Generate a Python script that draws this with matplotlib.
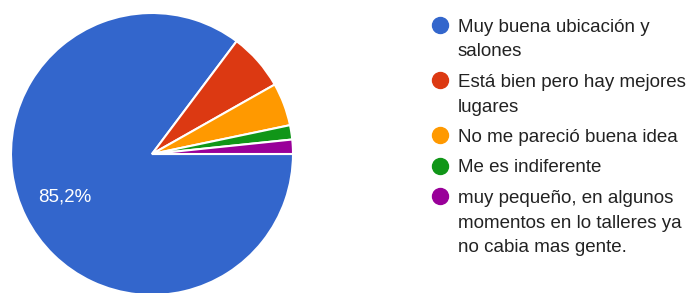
import matplotlib
matplotlib.use('Agg')
from matplotlib import pyplot as plt
from matplotlib.lines import Line2D

# responses (counts): 52/61 = 85,2%
labels: list[str] = [
    'Muy buena ubicación y\nsalones',
    'Está bien pero hay mejores\nlugares',
    'No me pareció buena idea',
    'Me es indiferente',
    'muy pequeño, en algunos\nmomentos en lo talleres ya\nno cabia mas gente.',
]
counts: list[int] = [52, 4, 3, 1, 1]
colors: list[str] = ['#3366cc', '#dc3912', '#ff9900', '#109618', '#990099']

plt.rcParams['font.family'] = ['Liberation Sans', 'DejaVu Sans']

W, H = 691, 293
fig = plt.figure(figsize=(W / 100, H / 100), dpi=100)

# pie: center (152, 154) px from top-left, radius 141 px
cx, cy, r = 152, 154, 141
ax = fig.add_axes([(cx - r) / W, (H - cy - r) / H, 2 * r / W, 2 * r / H])


def pct_label(p):
    # google forms only labels the big slices
    return f'{p:.1f}%'.replace('.', ',') if p > 10 else ''


wedges, _, autotexts = ax.pie(
    counts, colors=colors, startangle=0, counterclock=False,
    autopct=pct_label, pctdistance=0.69,
    wedgeprops={'edgecolor': 'white', 'linewidth': 1.5},
    textprops={'color': 'white', 'fontsize': 13.5})
ax.set_xlim(-1.0, 1.0)
ax.set_ylim(-1.0, 1.0)
ax.set_aspect('equal')
ax.axis('off')

# legend drawn by hand so the dot sits on the first line
text_x = 458 / W
dot_x = 440 / W
line_h = 24.5
item_gap = 30.5
baseline = 32.0
for label, color in zip(labels, colors):
    lines = label.split('\n')
    fig.add_artist(Line2D([dot_x], [1 - (baseline - 7) / H], marker='o',
                          markersize=11.5, color=color, linestyle='none',
                          transform=fig.transFigure))
    for i, line in enumerate(lines):
        fig.text(text_x, 1 - (baseline + i * line_h) / H, line,
                 fontsize=13.5, color='#222222', va='baseline', ha='left')
    baseline += (len(lines) - 1) * line_h + item_gap

fig.savefig('out.png', dpi=100)
